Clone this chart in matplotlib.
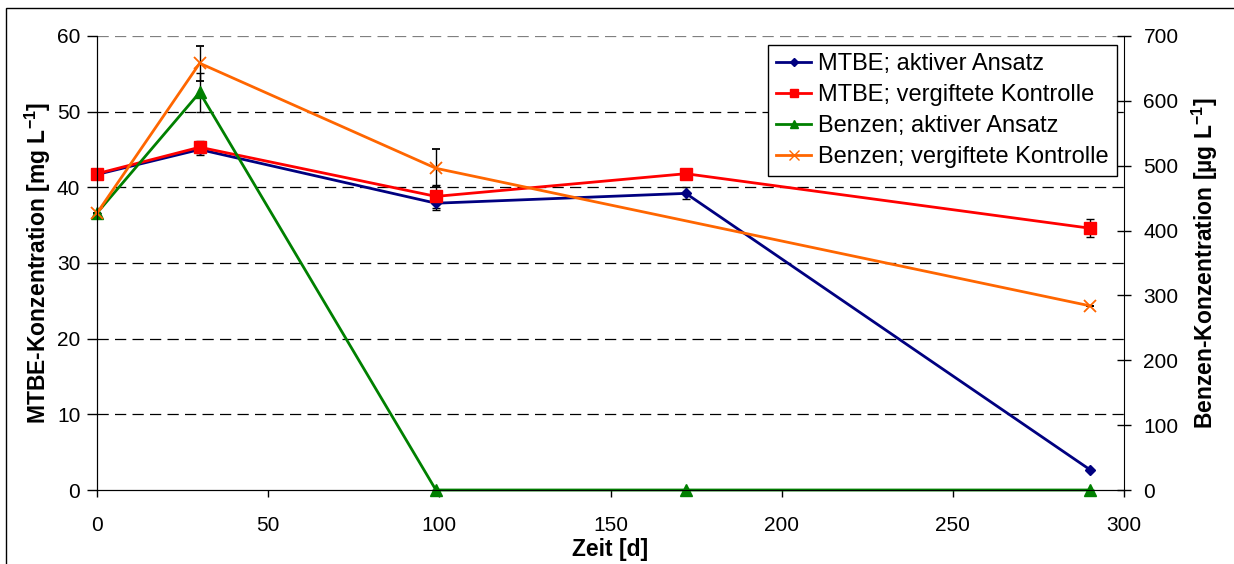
import numpy as np
import matplotlib.pyplot as plt
from matplotlib.patches import Rectangle
from matplotlib.lines import Line2D

plt.rcParams['font.family'] = ['Liberation Sans', 'DejaVu Sans']
plt.rcParams['mathtext.fontset'] = 'custom'
plt.rcParams['mathtext.rm'] = 'Liberation Sans'
plt.rcParams['mathtext.bf'] = 'Liberation Sans:bold'

# data
t_mtbe = [0, 30, 99, 172, 290]
mtbe_aktiv = [41.7, 45.0, 37.9, 39.2, 2.7]
mtbe_aktiv_err = [0.0, 0.7, 0.9, 0.8, 0.0]
mtbe_kontr = [41.8, 45.3, 38.8, 41.8, 34.6]
mtbe_kontr_err = [0.0, 0.8, 1.5, 0.0, 1.2]

t_benz_aktiv = [0, 30, 99, 172, 290]
benz_aktiv = [427, 613, 0, 0, 0]
benz_aktiv_err = [0, 30, 0, 0, 0]
t_benz_kontr = [0, 30, 99, 290]
benz_kontr = [427, 658, 496, 284]
benz_kontr_err = [0, 27, 29, 0]

labels = ['MTBE; aktiver Ansatz', 'MTBE; vergiftete Kontrolle',
          'Benzen; aktiver Ansatz', 'Benzen; vergiftete Kontrolle']
colors = ['#000080', '#ff0000', '#008000', '#ff6600']
markers = ['D', 's', '^', 'x']
msizes = [5, 8, 8, 9]

fig = plt.figure(figsize=(12.34, 5.64), dpi=100)
ax = fig.add_axes([0.0786, 0.1312, 0.9109 - 0.0786, 0.9362 - 0.1312])
ax2 = ax.twinx()

eb = dict(ecolor='black', elinewidth=1, capsize=3, capthick=1, lw=2, clip_on=False)
series = [(ax, t_mtbe, mtbe_aktiv, mtbe_aktiv_err),
          (ax, t_mtbe, mtbe_kontr, mtbe_kontr_err),
          (ax2, t_benz_aktiv, benz_aktiv, benz_aktiv_err),
          (ax2, t_benz_kontr, benz_kontr, benz_kontr_err)]
for i, (a, t, v, e) in enumerate(series):
    a.errorbar(t, v, yerr=e, color=colors[i], marker=markers[i], ms=msizes[i],
               mew=1.3 if markers[i] == 'x' else 1, **eb)

ax.set_xlim(0, 300)
ax.set_ylim(0, 60)
ax2.set_ylim(0, 700)
ax.set_xticks(np.arange(0, 301, 50))
ax.set_yticks(np.arange(0, 61, 10))
ax2.set_yticks(np.arange(0, 701, 100))

for y in range(10, 61, 10):
    ax.axhline(y, color='black' if y < 60 else '#808080', lw=0.9,
               ls=(0, (9, 5)), zorder=0)

for a in (ax, ax2):
    a.spines['top'].set_visible(False)
    a.tick_params(labelsize=15, width=1)
ax.tick_params(axis='y', direction='out', length=7, pad=5)
ax.tick_params(axis='x', direction='out', length=5, pad=14)
ax2.tick_params(axis='y', direction='inout', length=10, pad=9)
ax.spines['right'].set_visible(False)

ax.set_xlabel('Zeit [d]', fontsize=16.5, fontweight='bold', labelpad=2)
ax.set_ylabel(r'MTBE-Konzentration [mg L$^{\mathbf{-1}}$]', fontsize=16.5,
              fontweight='bold', labelpad=3)
ax2.set_ylabel(r'Benzen-Konzentration [µg L$^{\mathbf{-1}}$]', fontsize=16.5,
               fontweight='bold', labelpad=8)

handles = [Line2D([], [], color=colors[i], marker=markers[i], lw=2,
                  ms=msizes[i] * 0.8) for i in range(4)]
leg = ax2.legend(handles, labels, loc='upper right',
                 bbox_to_anchor=(0.9935, 0.981), fontsize=17, fancybox=False,
                 edgecolor='black', framealpha=1, borderpad=0.35,
                 handlelength=1.5, handletextpad=0.3, labelspacing=0.38,
                 borderaxespad=0)
leg.get_frame().set_linewidth(1)

fig.patches.append(Rectangle((6 / 1234, -0.1), 1.2, (564 - 8) / 564 + 0.1,
                             transform=fig.transFigure, fill=False,
                             edgecolor='black', lw=1))

fig.savefig('out.png', dpi=100)
